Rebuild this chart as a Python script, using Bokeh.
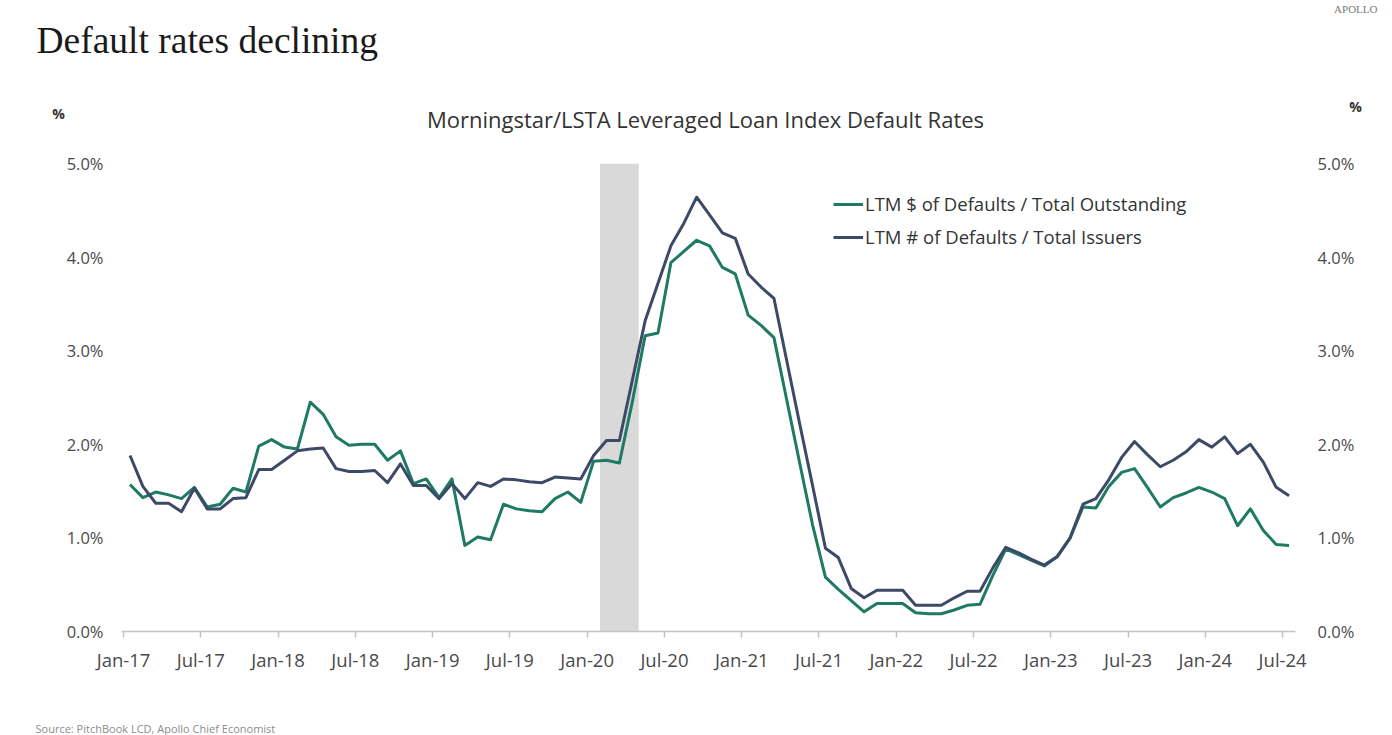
import numpy as np
import pandas as pd
from bokeh.plotting import figure
from bokeh.layouts import column
from bokeh.models import (ColumnDataSource, LinearAxis, FixedTicker, PrintfTickFormatter,
                          BoxAnnotation, Legend, LegendItem, Range1d)
from bokeh.core.properties import value
from bokeh.embed import file_html
from bokeh.resources import INLINE

# ---------------- DATA ----------------
months = pd.period_range("2017-01", "2024-07", freq="M")

dollar_default_rate = [
    1.57, 1.43, 1.49, 1.46, 1.42, 1.54, 1.33, 1.36, 1.53, 1.49, 1.98, 2.05,
    1.97, 1.95, 2.45, 2.32, 2.08, 1.99, 2.00, 2.00, 1.83, 1.93, 1.58, 1.63,
    1.43, 1.63, 0.92, 1.01, 0.98, 1.36, 1.31, 1.29, 1.28, 1.42, 1.49, 1.38,
    1.82, 1.83, 1.80, 2.45, 3.16, 3.19, 3.94, 4.06, 4.18, 4.12, 3.89, 3.82,
    3.38, 3.27, 3.14, 2.47, 1.80, 1.14, 0.58, 0.45, 0.33, 0.21, 0.30, 0.30,
    0.30, 0.20, 0.19, 0.19, 0.23, 0.28, 0.29, 0.60, 0.88, 0.82, 0.76, 0.70,
    0.80, 1.00, 1.33, 1.32, 1.55, 1.70, 1.74, 1.54, 1.33, 1.43, 1.48, 1.54,
    1.49, 1.42, 1.13, 1.31, 1.08, 0.93, 0.92,
]

issuer_default_rate = [
    1.88, 1.55, 1.37, 1.37, 1.28, 1.53, 1.31, 1.31, 1.42, 1.43, 1.73, 1.73,
    1.83, 1.93, 1.95, 1.96, 1.74, 1.71, 1.71, 1.72, 1.59, 1.79, 1.56, 1.56,
    1.42, 1.58, 1.42, 1.59, 1.55, 1.63, 1.62, 1.60, 1.59, 1.65, 1.64, 1.63,
    1.88, 2.04, 2.04, 2.68, 3.32, 3.72, 4.12, 4.36, 4.64, 4.45, 4.26, 4.20,
    3.82, 3.68, 3.56, 2.89, 2.22, 1.56, 0.89, 0.79, 0.46, 0.36, 0.44, 0.44,
    0.44, 0.28, 0.28, 0.28, 0.36, 0.43, 0.43, 0.68, 0.90, 0.84, 0.77, 0.71,
    0.80, 1.00, 1.36, 1.42, 1.62, 1.86, 2.03, 1.89, 1.76, 1.83, 1.92, 2.05,
    1.97, 2.08, 1.90, 2.00, 1.81, 1.54, 1.45,
]

tick_labels = ["Jan-17", "Jul-17", "Jan-18", "Jul-18", "Jan-19", "Jul-19",
               "Jan-20", "Jul-20", "Jan-21", "Jul-21", "Jan-22", "Jul-22",
               "Jan-23", "Jul-23", "Jan-24", "Jul-24"]

series_names = ["LTM $ of Defaults / Total Outstanding",
                "LTM # of Defaults / Total Issuers"]

recession_start = "2020-02"
recession_end = "2020-05"   # shaded through end of Apr-20

heading = "Default rates declining"
chart_title = "Morningstar/LSTA Leveraged Loan Index Default Rates"
source_note = "Source: PitchBook LCD, Apollo Chief Economist"

# ---------------- STYLE ----------------
GREEN = "#1f7a64"
NAVY = "#3c4a68"
TXT = "#333333"
AX = "#4a4a4a"
W = 1392
HEADER_H = 150
FOOTER_H = 40
MAIN_H = 735 - HEADER_H - FOOTER_H


def blank(h):
    f = figure(width=W, height=h, x_range=Range1d(0, W), y_range=Range1d(h, 0),
               output_backend="svg", toolbar_location=None,
               x_axis_type=None, y_axis_type=None,
               min_border=0, min_border_left=0, min_border_right=0,
               min_border_top=0, min_border_bottom=0)
    f.frame_align = False
    f.outline_line_color = None
    f.xgrid.visible = False
    f.ygrid.visible = False
    return f


# ---------------- HEADER ----------------
header = blank(HEADER_H)
header.text(x=[36], y=[40], text=[heading], text_font=value("Liberation Serif"),
            text_font_size="37.5px", text_color="#1a1a1a", text_baseline="middle")
header.text(x=[1377], y=[8], text=["APOLLO"], text_font=value("Liberation Serif"),
            text_font_size="11px", text_color="#7a7a7a", text_align="right",
            text_baseline="alphabetic")
header.text(x=[705], y=[118], text=[chart_title], text_font=value("Open Sans"),
            text_font_size="22px", text_color=TXT, text_align="center",
            text_baseline="middle")
header.text(x=[58, 1355], y=[113, 106], text=["%", "%"], text_font=value("Open Sans"),
            text_font_size="14px", text_font_style="bold", text_color=TXT,
            text_align="center", text_baseline="middle")

# ---------------- MAIN CHART ----------------
month_idx = np.arange(len(months))
x_mid = month_idx + 0.5          # monthly values plotted mid-month
src = ColumnDataSource(dict(x=x_mid, dollar=dollar_default_rate,
                            issuer=issuer_default_rate))

p = figure(width=W, height=MAIN_H, x_range=(-0.16, 91.0), y_range=(0, 5),
           output_backend="svg", toolbar_location=None,
           min_border_left=121, min_border_right=97,
           min_border_top=13, min_border_bottom=MAIN_H - 13 - 468)
p.frame_align = False
p.outline_line_color = None
p.xgrid.visible = False
p.ygrid.visible = False

rec_left = (pd.Period(recession_start, "M") - months[0]).n
rec_right = (pd.Period(recession_end, "M") - months[0]).n
p.add_layout(BoxAnnotation(left=rec_left, right=rec_right, fill_color="#d9d9d9",
                           fill_alpha=1.0, line_alpha=0, level="underlay"))

r1 = p.line("x", "dollar", source=src, line_color=GREEN, line_width=3, line_join="round")
r2 = p.line("x", "issuer", source=src, line_color=NAVY, line_width=3, line_join="round")

tick_pos = list(range(0, 91, 6))
xa = p.xaxis[0]
xa.ticker = FixedTicker(ticks=tick_pos)
xa.major_label_overrides = {t: lab for t, lab in zip(tick_pos, tick_labels)}
xa.axis_line_color = "#c4c4c4"
xa.axis_line_width = 1.5
xa.major_tick_line_color = "#c4c4c4"
xa.major_tick_line_width = 1.5
xa.major_tick_out = 6
xa.major_tick_in = 0
xa.minor_tick_line_color = None
xa.major_label_standoff = 9
xa.major_label_text_font = "Open Sans"
xa.major_label_text_font_size = "18.5px"
xa.major_label_text_color = AX


def style_y(ax, standoff):
    ax.ticker = FixedTicker(ticks=[0, 1, 2, 3, 4, 5])
    ax.formatter = PrintfTickFormatter(format="%.1f%%")
    ax.axis_line_color = None
    ax.major_tick_line_color = None
    ax.minor_tick_line_color = None
    ax.major_tick_out = 0
    ax.major_tick_in = 0
    ax.major_label_standoff = standoff
    ax.major_label_text_font = "Open Sans"
    ax.major_label_text_font_size = "16.5px"
    ax.major_label_text_color = AX


style_y(p.yaxis[0], 18)
yr = LinearAxis()
style_y(yr, 22)
p.add_layout(yr, "right")

legend = Legend(items=[LegendItem(label=series_names[0], renderers=[r1]),
                       LegendItem(label=series_names[1], renderers=[r2])],
                location=(712, 382), orientation="vertical",
                glyph_width=30, glyph_height=20, label_height=20, spacing=8,
                padding=0, margin=0, label_standoff=2,
                border_line_alpha=0, background_fill_alpha=0,
                label_text_font="Open Sans", label_text_font_size="18.5px",
                label_text_color=TXT)
p.add_layout(legend, "center")

# ---------------- FOOTER ----------------
footer = blank(FOOTER_H)
footer.text(x=[35], y=[33], text=[source_note], text_font=value("Open Sans"),
            text_font_size="11px", text_color="#8c8c8c", text_baseline="alphabetic")

layout = column(header, p, footer, spacing=0)
open("out.html", "w").write(file_html(layout, INLINE))
